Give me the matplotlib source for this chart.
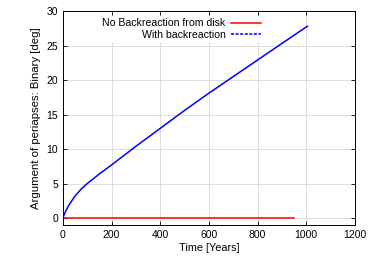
import matplotlib.pyplot as plt
from matplotlib.lines import Line2D

plt.rcParams['font.family'] = ['Liberation Sans', 'DejaVu Sans']

# blue curve: with backreaction
t_back = [0, 10, 25, 50, 75, 100, 150, 200, 300, 400, 500, 600, 700, 800, 900, 1005]
w_back = [0, 0.9, 1.9, 3.2, 4.2, 5.0, 6.4, 7.7, 10.4, 13.0, 15.6, 18.1, 20.5, 22.9, 25.3, 27.8]

# red line: no backreaction
t_none = [0, 950]
w_none = [0, 0]

fig = plt.figure(figsize=(3.74, 2.62), dpi=100)
ax = fig.add_axes([0.168, 0.141, 0.781, 0.817])

ax.plot(t_none, w_none, color='#ff0000', lw=1.1)
ax.plot(t_back, w_back, color='#0000ff', lw=1.1)

ax.set_xlim(0, 1200)
ax.set_ylim(-1, 30)
ax.set_xticks([0, 200, 400, 600, 800, 1000, 1200])
ax.set_yticks([0, 5, 10, 15, 20, 25, 30])
ax.grid(True, color='#d8d8d8', lw=0.6)
ax.set_axisbelow(True)
ax.tick_params(direction='in', top=True, right=True, labelsize=7.5, length=3, width=0.6)
for s in ax.spines.values():
    s.set_linewidth(0.7)

ax.set_xlabel('Time [Years]', fontsize=7.8, labelpad=2)
ax.set_ylabel('Argument of periapses: Binary [deg]', fontsize=8.2, labelpad=4)

handles = [Line2D([], [], color='#ff0000', lw=1.1),
           Line2D([], [], color='#0000ff', lw=1.1, ls=(0, (2, 1)))]
leg = ax.legend(handles, ['No Backreaction from disk', 'With backreaction'],
                loc='upper right', bbox_to_anchor=(0.705, 1.0), markerfirst=False,
                fontsize=7.6, frameon=True, fancybox=False, edgecolor='none',
                framealpha=1, handlelength=2.9, borderpad=0.2, labelspacing=0.15,
                handletextpad=0.5)

fig.savefig('out.png', dpi=100)
